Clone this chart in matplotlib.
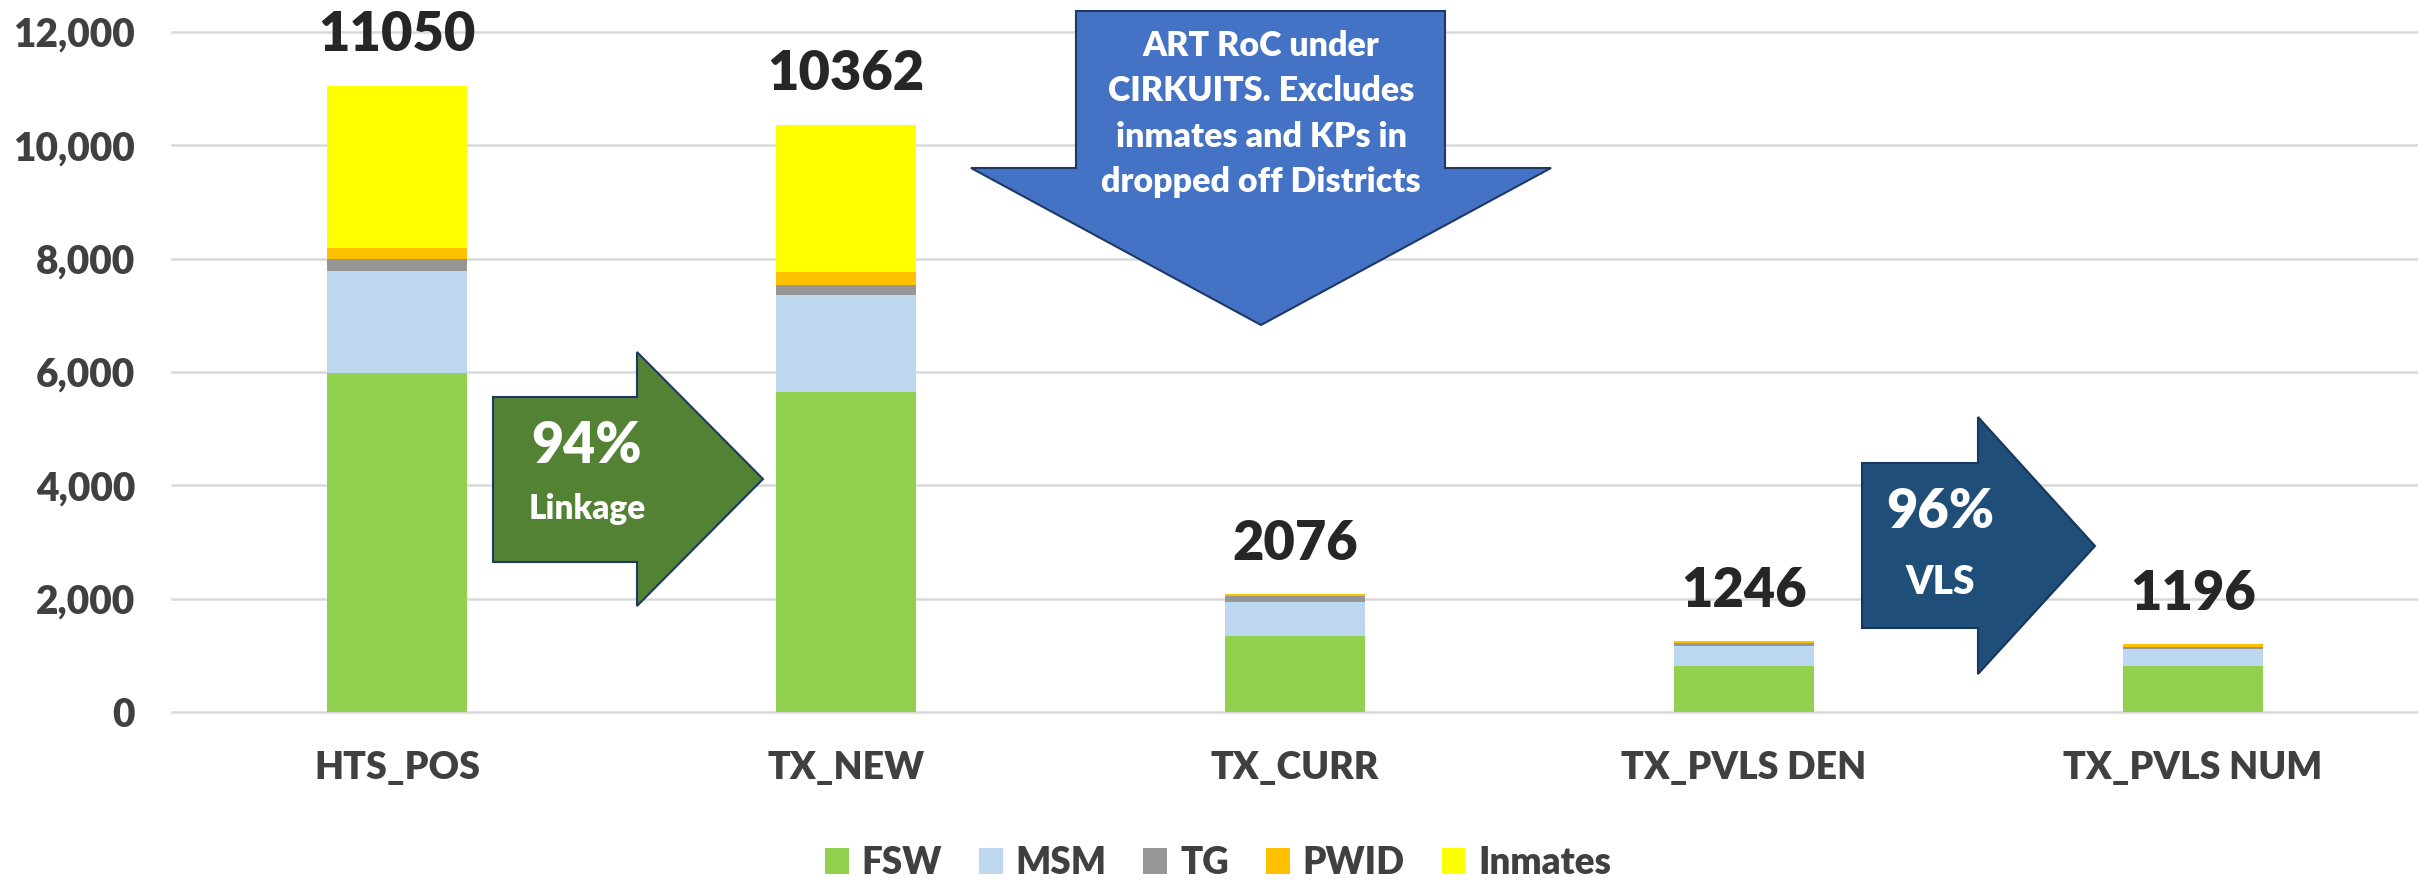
import numpy as np
import matplotlib
matplotlib.use("Agg")
import matplotlib.pyplot as plt
from matplotlib.patches import Polygon
from matplotlib.transforms import Affine2D

plt.rcParams['font.family'] = ['Lato', 'DejaVu Sans']
plt.rcParams['font.weight'] = 'heavy'

# data
categories = ['HTS_POS', 'TX_NEW', 'TX_CURR', 'TX_PVLS DEN', 'TX_PVLS NUM']
groups = ['FSW', 'MSM', 'TG', 'PWID', 'Inmates']
fsw = [5990, 5650, 1335, 810, 810]
msm = [1785, 1705, 612, 360, 300]
tg = [225, 180, 94, 40, 45]
pwid = [195, 235, 35, 36, 41]
inmates = [2855, 2592, 0, 0, 0]
totals = [11050, 10362, 2076, 1246, 1196]
yticks = [0, 2000, 4000, 6000, 8000, 10000, 12000]

colors = ['#92D050', '#BDD7EE', '#969696', '#FFC000', '#FFFF00']

W, H = 2418, 881
fig = plt.figure(figsize=(W / 100, H / 100), dpi=100)
ax = fig.add_axes([172.5 / W, (H - 712) / H, 2245 / W, 680 / H])

# pixel coords (from top-left) -> figure
px = Affine2D().scale(1 / W, -1 / H).translate(0, 1) + fig.transFigure

x = np.arange(len(categories))
bottom = np.zeros(len(categories))
for name, vals, c in zip(groups, [fsw, msm, tg, pwid, inmates], colors):
    ax.bar(x, vals, width=0.31, bottom=bottom, color=c, label=name, zorder=2)
    bottom += np.array(vals)

for i, t in enumerate(totals):
    ax.annotate(str(t), (x[i], bottom[i]), xytext=(0, 25), textcoords='offset points',
                ha='center', va='baseline', fontsize=39, fontweight='heavy', color='#262626')

ax.set_xlim(-0.5, len(categories) - 0.5)
ax.set_ylim(0, 12000)
ax.set_yticks(yticks)
ax.set_yticklabels(['{:,}'.format(v) for v in yticks])
ax.set_xticks(x)
ax.set_xticklabels(categories)
ax.tick_params(axis='y', length=0, pad=27, labelsize=28, labelcolor='#404040')
ax.tick_params(axis='x', length=0, pad=28, labelsize=27, labelcolor='#404040')
for s in ax.spines.values():
    s.set_visible(False)
ax.yaxis.grid(True, color='#d9d9d9', linewidth=1.8, zorder=0)
for l in ax.get_ygridlines():
    l.set_clip_on(False)
ax.set_axisbelow(True)

# arrows
green = [(493, 397), (637, 397), (637, 352), (763, 479), (637, 606), (637, 562), (493, 562)]
fig.add_artist(Polygon(green, closed=True, transform=px, facecolor='#548235',
                       edgecolor='#1F3864', linewidth=1.5, zorder=5))
fig.text(587, 446, '94%', transform=px, ha='center', va='center', fontsize=40,
         color='white', zorder=6)
fig.text(587, 509, 'Linkage', transform=px, ha='center', va='center', fontsize=24,
         color='white', zorder=6)

down = [(1076, 11), (1445, 11), (1445, 168), (1551, 168), (1261, 325), (971, 168), (1076, 168)]
fig.add_artist(Polygon(down, closed=True, transform=px, facecolor='#4472C4',
                       edgecolor='#1F3864', linewidth=1.5, zorder=5))
fig.text(1261, 114, 'ART RoC under\nCIRKUITS. Excludes\ninmates and KPs in\ndropped off Districts',
         transform=px, ha='center', va='center', fontsize=24.5,
         color='white', linespacing=1.52, zorder=6)

vls = [(1862, 463), (1978, 463), (1978, 417), (2095, 546), (1978, 674), (1978, 628), (1862, 628)]
fig.add_artist(Polygon(vls, closed=True, transform=px, facecolor='#1F4E79',
                       edgecolor='#17375E', linewidth=1.5, zorder=5))
fig.text(1940, 512, '96%', transform=px, ha='center', va='center', fontsize=39,
         color='white', zorder=6)
fig.text(1940, 582, 'VLS', transform=px, ha='center', va='center', fontsize=28,
         color='white', zorder=6)

fig.legend(loc='center', bbox_to_anchor=(1218 / W, 1 - 863 / H), ncol=5, frameon=False,
           fontsize=26.5, handlelength=0.65, handleheight=0.7, handletextpad=0.35,
           columnspacing=1.0, labelcolor='#404040')

fig.savefig('out.png', dpi=100, facecolor='white')
